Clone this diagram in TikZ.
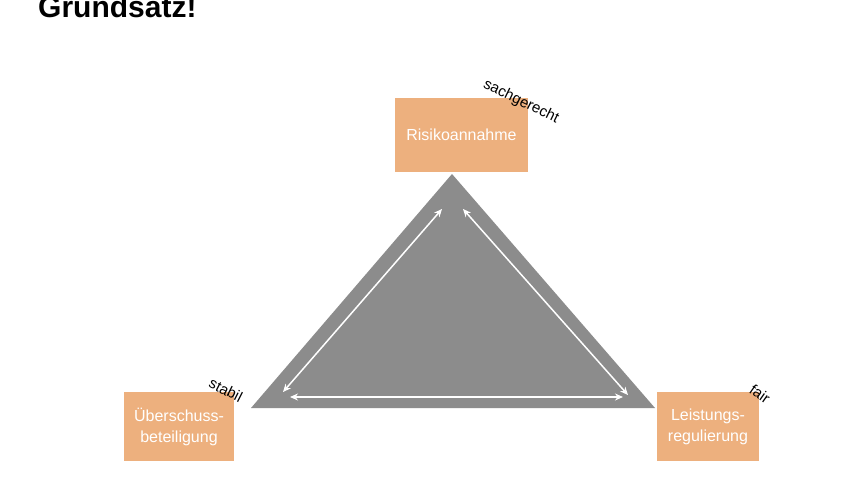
\documentclass[tikz,border=0pt]{standalone}
\usepackage{fontspec}
\setmainfont{Liberation Sans}
\usetikzlibrary{arrows.meta}
\definecolor{boxorange}{HTML}{EDB07E}
\definecolor{trigray}{HTML}{8C8C8C}
\tikzset{
  pillarbox/.style={fill=boxorange, draw=none, text=white, font=\fontsize{16}{21}\selectfont, align=center, inner sep=0pt},
  sidelabel/.style={font=\fontsize{15}{17}\selectfont, text=black, inner sep=0pt},
  whitearrow/.style={draw=white, line width=1.5pt, {Stealth[length=8pt,width=7pt]}-{Stealth[length=8pt,width=7pt]}}
}
\begin{document}
\begin{tikzpicture}[x=1pt,y=-1pt]
\useasboundingbox[fill=white] (0,0) rectangle (847,477);
% title
\node[anchor=base west, font=\bfseries\fontsize{30}{32}\selectfont, inner sep=0pt] (title) at (38,17) {Grundsatz!};
% triangle
\coordinate (top) at (452,174);
\coordinate (bl) at (251,408);
\coordinate (br) at (655,408);
\fill[trigray] (top) -- (bl) -- (br) -- cycle;
% arrow end points
\coordinate (la) at (283,392);
\coordinate (lb) at (442,209);
\coordinate (ra) at (463,209);
\coordinate (rb) at (628,395);
\coordinate (ba) at (290,397);
\coordinate (bb) at (623,397);
\draw[whitearrow] (la) -- (lb);
\draw[whitearrow] (ra) -- (rb);
\draw[whitearrow] (ba) -- (bb);
% boxes
\node[pillarbox, minimum width=133pt, minimum height=74pt] (risk) at (461.5,135) {Risikoannahme};
\node[pillarbox, minimum width=110pt, minimum height=69pt] (ueber) at (179,426.5) {Überschuss-\\beteiligung};
\node[pillarbox, minimum width=102pt, minimum height=69pt] (leist) at (708,426.5) {Leistungs-\\regulierung};
% side labels
\node[sidelabel, rotate=-26] (sach) at (521,102) {sachgerecht};
\node[sidelabel, rotate=-27] (stab) at (226,390) {stabil};
\node[sidelabel, rotate=-35] (fair) at (760,394) {fair};
\end{tikzpicture}
\end{document}
